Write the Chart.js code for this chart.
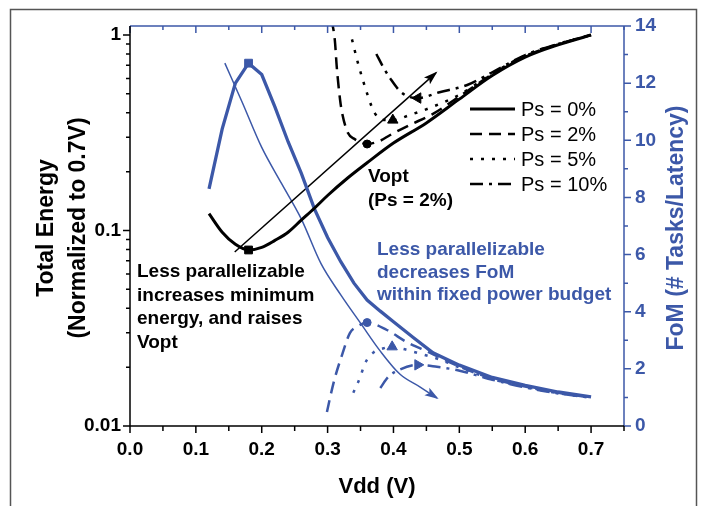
<!DOCTYPE html>
<html>
<head>
<meta charset="utf-8">
<script src="https://cdn.jsdelivr.net/npm/chart.js@4.4.1/dist/chart.umd.min.js"></script>
<style>
  html, body { margin: 0; padding: 0; background: #fff; }
  #wrap { width: 707px; height: 506px; position: relative; }
</style>
</head>
<body>
<div id="wrap"><canvas id="chart" width="707" height="506"></canvas></div>
<script>
// ---- data ----
// total energy (normalized to 0.7V), left log axis
const vddE0 = [0.12, 0.14, 0.16, 0.18, 0.20, 0.22, 0.24, 0.26, 0.28, 0.30, 0.33, 0.36, 0.40, 0.45, 0.50, 0.55, 0.60, 0.65, 0.70];
const energyE0 = [0.122, 0.098, 0.085, 0.0795, 0.082, 0.089, 0.098, 0.113, 0.13, 0.151, 0.185, 0.222, 0.28, 0.355, 0.47, 0.62, 0.77, 0.89, 1.0];
const vddE2 = [0.306, 0.311, 0.314, 0.319, 0.322, 0.331, 0.34, 0.36, 0.38, 0.395, 0.425, 0.46, 0.50, 0.55, 0.60, 0.65, 0.70];
const energyE2 = [1.2, 0.94, 0.68, 0.465, 0.40, 0.315, 0.295, 0.277, 0.288, 0.308, 0.347, 0.395, 0.485, 0.63, 0.78, 0.895, 1.0];
const vddE5 = [0.337, 0.346, 0.357, 0.367, 0.376, 0.385, 0.399, 0.425, 0.46, 0.50, 0.55, 0.60, 0.65, 0.70];
const energyE5 = [0.95, 0.72, 0.54, 0.43, 0.38, 0.368, 0.367, 0.39, 0.43, 0.495, 0.635, 0.785, 0.9, 1.0];
const vddE10 = [0.374, 0.385, 0.395, 0.413, 0.437, 0.47, 0.512, 0.55, 0.60, 0.65, 0.70];
const energyE10 = [0.8, 0.68, 0.6, 0.505, 0.476, 0.51, 0.555, 0.645, 0.79, 0.9, 1.0];

// FoM (# tasks/latency), right linear axis
const vddF0 = [0.12, 0.14, 0.16, 0.18, 0.20, 0.22, 0.24, 0.26, 0.28, 0.30, 0.32, 0.34, 0.36, 0.38, 0.40, 0.43, 0.46, 0.50, 0.55, 0.60, 0.65, 0.70];
const fomF0 = [8.3, 10.4, 12.0, 12.7, 12.3, 11.17, 9.95, 8.85, 7.6, 6.6, 5.75, 5.0, 4.41, 4.02, 3.65, 3.1, 2.56, 2.13, 1.7, 1.42, 1.19, 1.02];
const vddF2 = [0.299, 0.304, 0.311, 0.322, 0.334, 0.345, 0.36, 0.39, 0.42, 0.455, 0.50, 0.55, 0.60, 0.65, 0.70];
const fomF2 = [0.49, 1.02, 1.68, 2.49, 3.26, 3.48, 3.62, 3.36, 2.94, 2.57, 2.08, 1.66, 1.38, 1.16, 1.0];
const vddF5 = [0.339, 0.349, 0.357, 0.369, 0.385, 0.398, 0.414, 0.436, 0.47, 0.50, 0.55, 0.60, 0.65, 0.70];
const fomF5 = [1.16, 1.68, 2.2, 2.56, 2.72, 2.77, 2.7, 2.56, 2.33, 2.05, 1.64, 1.37, 1.15, 0.99];
const vddF10 = [0.38, 0.392, 0.41, 0.437, 0.466, 0.496, 0.524, 0.55, 0.60, 0.65, 0.70];
const fomF10 = [1.33, 1.72, 1.98, 2.14, 2.07, 1.96, 1.79, 1.62, 1.35, 1.14, 0.99];

// Vopt markers (Ps = 0, 2, 5, 10 %)
const voptV = [0.18, 0.36, 0.399, 0.437];
const voptE = [0.0795, 0.277, 0.367, 0.476];
const voptFV = [0.18, 0.36, 0.398, 0.437];
const voptF = [12.7, 3.62, 2.77, 2.14];

// the two trend arrows
const arrowEV = [0.159, 0.4645];
const arrowEE = [0.0776, 0.64];
const arrowFV = [0.144, 0.17, 0.2, 0.23, 0.26, 0.29, 0.32, 0.35, 0.38, 0.41, 0.44, 0.466];
const arrowFF = [12.7, 11.35, 9.75, 8.49, 7.25, 5.68, 4.59, 3.6, 2.62, 1.81, 1.37, 0.98];

const xTicks = [0, 0.1, 0.2, 0.3, 0.4, 0.5, 0.6, 0.7];
const yTicks = [0.01, 0.1, 1];
const legendLabels = ['Ps = 0%', 'Ps = 2%', 'Ps = 5%', 'Ps = 10%'];

// ---- styles ----
const BLUE = '#3c58a8';
const FONT = '"Liberation Sans", Arial, Helvetica, sans-serif';
const DASHES = [[], [12, 7], [3, 8], [13, 6, 3, 6]];

function pts(xs, ys) { return xs.map((x, i) => ({ x: x, y: ys[i] })); }

function curve(label, xs, ys, axis, color, dash, width, tension) {
    return {
        type: 'line', label: label, data: pts(xs, ys), yAxisID: axis,
        borderColor: color, backgroundColor: color, borderWidth: width, borderDash: dash,
        borderCapStyle: 'butt', pointRadius: 0, fill: false,
        cubicInterpolationMode: tension ? 'monotone' : 'default', tension: 0
    };
}

function markers(xs, ys, axis, color) {
    return {
        type: 'scatter', label: 'vopt', data: pts(xs, ys), yAxisID: axis,
        pointStyle: ['rect', 'circle', 'triangle', 'triangle'],
        rotation: [0, 0, 0, axis === 'y' ? -90 : 90],
        pointRadius: [5.5, 4, 6, 6],
        backgroundColor: color, borderColor: color, borderWidth: 1
    };
}

const datasets = [
    curve('E0', vddE0, energyE0, 'y', '#000', DASHES[0], 3, true),
    curve('E2', vddE2, energyE2, 'y', '#000', DASHES[1], 2.5, true),
    curve('E5', vddE5, energyE5, 'y', '#000', DASHES[2], 2.5, true),
    curve('E10', vddE10, energyE10, 'y', '#000', DASHES[3], 2.5, true),
    curve('F0', vddF0, fomF0, 'yR', BLUE, DASHES[0], 3.3, false),
    curve('F2', vddF2, fomF2, 'yR', BLUE, DASHES[1], 2.5, true),
    curve('F5', vddF5, fomF5, 'yR', BLUE, DASHES[2], 2.5, true),
    curve('F10', vddF10, fomF10, 'yR', BLUE, DASHES[3], 2.5, true),
    curve('arrowE', arrowEV, arrowEE, 'y', '#000', [], 1.5, false),
    curve('arrowF', arrowFV, arrowFF, 'yR', BLUE, [], 1.5, true),
    markers(voptV, voptE, 'y', '#000'),
    markers(voptFV, voptF, 'yR', BLUE)
];

function near(v, list) { return list.some(t => Math.abs(v - t) < 1e-9); }

// ---- drawing helpers ----
function arrowHead(ctx, pEnd, pPrev, color) {
    const ang = Math.atan2(pEnd.y - pPrev.y, pEnd.x - pPrev.x);
    const len = 12, half = 4.5;
    ctx.save();
    ctx.translate(pEnd.x, pEnd.y);
    ctx.rotate(ang);
    ctx.fillStyle = color;
    ctx.beginPath();
    ctx.moveTo(2, 0);
    ctx.lineTo(-len, -half);
    ctx.lineTo(-len + 3, 0);
    ctx.lineTo(-len, half);
    ctx.closePath();
    ctx.fill();
    ctx.restore();
}

function vText(ctx, text, x, y, font, color) {
    ctx.save();
    ctx.translate(x, y);
    ctx.rotate(-Math.PI / 2);
    ctx.font = font;
    ctx.fillStyle = color;
    ctx.textAlign = 'center';
    ctx.textBaseline = 'middle';
    ctx.fillText(text, 0, 0);
    ctx.restore();
}

function lines(ctx, arr, x, y0, step, font, color) {
    ctx.font = font;
    ctx.fillStyle = color;
    ctx.textAlign = 'left';
    ctx.textBaseline = 'alphabetic';
    arr.forEach((t, i) => ctx.fillText(t, x, y0 + i * step));
}

const decorPlugin = {
    id: 'decor',
    afterDatasetsDraw(chart) {
        const ctx = chart.ctx;
        // arrow heads at the ends of the two trend arrows
        ['arrowE', 'arrowF'].forEach(name => {
            const idx = chart.data.datasets.findIndex(d => d.label === name);
            const meta = chart.getDatasetMeta(idx);
            const n = meta.data.length;
            const pEnd = meta.data[n - 1];
            let pPrev = meta.data[n - 2];
            if (pEnd.cp1x !== undefined && Math.hypot(pEnd.x - pEnd.cp1x, pEnd.y - pEnd.cp1y) > 0.5) {
                pPrev = { x: pEnd.cp1x, y: pEnd.cp1y };
            }
            arrowHead(ctx, pEnd, pPrev, chart.data.datasets[idx].borderColor);
        });
    },
    afterDraw(chart) {
        const ctx = chart.ctx;
        const a = chart.chartArea;
        const sx = chart.scales.x, sy = chart.scales.y, sr = chart.scales.yR;

        ctx.save();
        // outer frame
        ctx.strokeStyle = '#555';
        ctx.lineWidth = 1.5;
        ctx.strokeRect(10.5, 9.5, 686, 520);

        // top axis (blue), ticks inward
        ctx.strokeStyle = BLUE;
        ctx.lineWidth = 1.5;
        ctx.beginPath();
        ctx.moveTo(a.left, a.top); ctx.lineTo(a.right, a.top);
        for (let i = 0; i <= 15; i++) {
            const px = sx.getPixelForValue(i * 0.05);
            ctx.moveTo(px, a.top); ctx.lineTo(px, a.top + (i % 2 === 0 ? 7 : 4));
        }
        ctx.stroke();

        // right axis (blue), ticks outward
        ctx.beginPath();
        ctx.moveTo(a.right, a.top); ctx.lineTo(a.right, a.bottom);
        for (let v = 0; v <= 14; v++) {
            const py = sr.getPixelForValue(v);
            ctx.moveTo(a.right, py); ctx.lineTo(a.right + (v % 2 === 0 ? 7 : 4), py);
        }
        ctx.stroke();

        // bottom axis (black), ticks outward
        ctx.strokeStyle = '#000';
        ctx.beginPath();
        ctx.moveTo(a.left, a.bottom); ctx.lineTo(a.right, a.bottom);
        for (let i = 0; i <= 15; i++) {
            const px = sx.getPixelForValue(i * 0.05);
            ctx.moveTo(px, a.bottom); ctx.lineTo(px, a.bottom + (i % 2 === 0 ? 7 : 5));
        }
        ctx.stroke();

        // left axis (black, log), ticks outward
        ctx.beginPath();
        ctx.moveTo(a.left, a.top); ctx.lineTo(a.left, a.bottom);
        [0.01, 0.1].forEach(dec => {
            for (let m = 1; m <= 9; m++) {
                const py = sy.getPixelForValue(dec * m);
                ctx.moveTo(a.left, py); ctx.lineTo(a.left - (m === 1 ? 7 : 4), py);
            }
        });
        const p1 = sy.getPixelForValue(1);
        ctx.moveTo(a.left, p1); ctx.lineTo(a.left - 7, p1);
        ctx.stroke();

        // axis titles
        ctx.font = 'bold 22px ' + FONT;
        ctx.fillStyle = '#000';
        ctx.textAlign = 'center';
        ctx.textBaseline = 'middle';
        ctx.fillText('Vdd (V)', (a.left + a.right) / 2, 487);
        const midY = (a.top + a.bottom) / 2 + 2;
        vText(ctx, 'Total Energy', 47, midY, 'bold 23px ' + FONT, '#000');
        vText(ctx, '(Normalized to 0.7V)', 79, midY, 'bold 23px ' + FONT, '#000');
        vText(ctx, 'FoM (# Tasks/Latency)', 677, midY, 'bold 23px ' + FONT, BLUE);

        // legend inside the plot
        const lx0 = 470, lx1 = 515, ly0 = 109, lstep = 25;
        legendLabels.forEach((lab, i) => {
            const y = ly0 + i * lstep;
            ctx.strokeStyle = '#000';
            ctx.lineWidth = i === 0 ? 3 : 2.5;
            ctx.lineCap = 'butt';
            ctx.setLineDash(DASHES[i]);
            ctx.beginPath();
            ctx.moveTo(lx0, y); ctx.lineTo(lx1, y);
            ctx.stroke();
            ctx.setLineDash([]);
            ctx.font = '20px ' + FONT;
            ctx.fillStyle = '#000';
            ctx.textAlign = 'left';
            ctx.textBaseline = 'middle';
            ctx.fillText(lab, 521, y + 1);
        });

        // annotations
        const bold19 = 'bold 19px ' + FONT;
        lines(ctx, ['Vopt', '(Ps = 2%)'], 368, 182, 24, bold19, '#000');
        lines(ctx, ['Less parallelizable', 'increases minimum', 'energy, and raises', 'Vopt'], 137, 277, 23.5, bold19, '#000');
        lines(ctx, ['Less parallelizable', 'decreases FoM', 'within fixed power budget'], 377, 255, 22.5, bold19, BLUE);
        ctx.restore();
    }
};

const tickFont = { family: FONT, size: 19, weight: 'bold' };

new Chart(document.getElementById('chart'), {
    data: { datasets: datasets },
    options: {
        responsive: false,
        animation: false,
        devicePixelRatio: 1,
        layout: { padding: { top: 26, left: 0, right: 0, bottom: 0 } },
        plugins: { legend: { display: false }, tooltip: { enabled: false } },
        scales: {
            x: {
                type: 'linear', position: 'bottom', min: 0, max: 0.75,
                grid: { display: false, drawTicks: false }, border: { display: false },
                ticks: {
                    stepSize: 0.1, includeBounds: false, autoSkip: false, maxRotation: 0,
                    padding: 12, color: '#000', font: tickFont,
                    callback: v => near(v, xTicks) ? v.toFixed(1) : ''
                },
                afterFit: s => { s.height = 80; }
            },
            y: {
                type: 'logarithmic', position: 'left', min: 0.01, max: 1.112,
                grid: { display: false, drawTicks: false }, border: { display: false },
                ticks: {
                    autoSkip: false, padding: 9, color: '#000', font: tickFont,
                    callback: v => near(v, yTicks) ? String(v) : ''
                },
                afterFit: s => { s.width = 130; }
            },
            yR: {
                type: 'linear', position: 'right', min: 0, max: 14,
                grid: { display: false, drawTicks: false }, border: { display: false },
                ticks: { stepSize: 2, autoSkip: false, padding: 11, color: BLUE, font: tickFont },
                afterFit: s => { s.width = 83; }
            }
        }
    },
    plugins: [decorPlugin]
});
</script>
</body>
</html>
